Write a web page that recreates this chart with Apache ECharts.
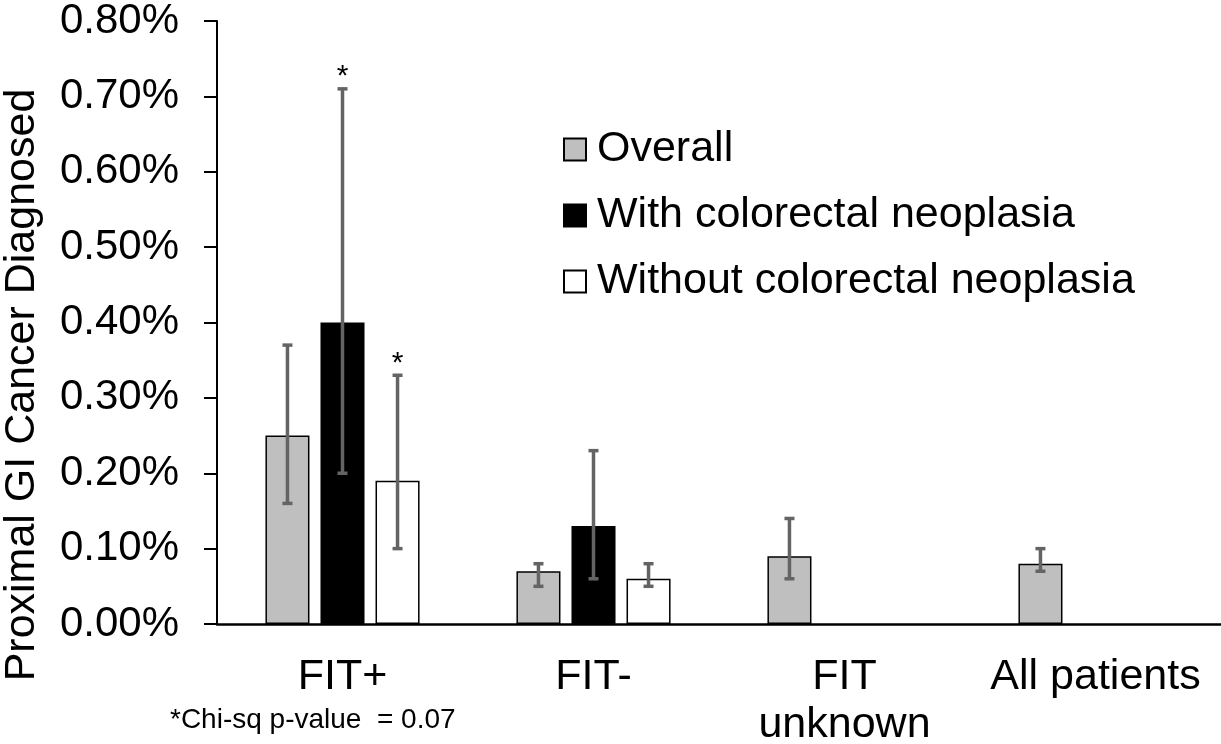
<!DOCTYPE html>
<html>
<head>
<meta charset="utf-8">
<script src="https://cdn.jsdelivr.net/npm/echarts@6/dist/echarts.min.js"></script>
<style>
html,body{margin:0;padding:0;background:#fff;}
#chart{width:1221px;height:744px;}
</style>
</head>
<body>
<div id="chart"></div>
<script>
// ---- data (values in percent) ----
const categories = ['FIT+', 'FIT-', 'FIT\nunknown', 'All patients'];
const seriesNames = ['Overall', 'With colorectal neoplasia', 'Without colorectal neoplasia'];
const overall      = [0.25, 0.07, 0.09, 0.08];
const overallLow   = [0.16, 0.05, 0.06, 0.07];
const overallHigh  = [0.37, 0.08, 0.14, 0.10];
const withNeo      = [0.40, 0.13, null, null];
const withLow      = [0.20, 0.06, null, null];
const withHigh     = [0.71, 0.23, null, null];
const withoutNeo   = [0.19, 0.06, null, null];
const withoutLow   = [0.10, 0.05, null, null];
const withoutHigh  = [0.33, 0.08, null, null];
const withSig      = [true, false, false, false];
const withoutSig   = [true, false, false, false];
const yTicks = [0, 0.1, 0.2, 0.3, 0.4, 0.5, 0.6, 0.7, 0.8];
const footnote = '*Chi-sq p-value  = 0.07';
const yTitle = 'Proximal GI Cancer Diagnosed';

// ---- style ----
const FONT = "'Liberation Sans', Arial, sans-serif";
const CAT_GAP = 0.386, BAR_GAP = 0.25;
const fills = ['#bfbfbf', '#000000', '#ffffff'];

const groups = [
  [overall, overallLow, overallHigh, [false,false,false,false]],
  [withNeo, withLow, withHigh, withSig],
  [withoutNeo, withoutLow, withoutHigh, withoutSig]
];
const errData = [];
groups.forEach((g, s) => {
  g[0].forEach((v, i) => {
    if (v != null && g[1][i] != null) errData.push([i, s, g[1][i], g[2][i], g[3][i] ? 1 : 0]);
  });
});

const chart = echarts.init(document.getElementById('chart'), null, {renderer: 'canvas'});

const barSeries = [overall, withNeo, withoutNeo].map((arr, s) => ({
  name: seriesNames[s],
  type: 'bar',
  data: arr.map(v => v == null ? '-' : v),
  barGap: (BAR_GAP * 100) + '%',
  barCategoryGap: (CAT_GAP * 100) + '%',
  itemStyle: {color: fills[s], borderColor: '#000', borderWidth: 1.5},
  emphasis: {disabled: true},
  z: 2
}));

const errSeries = {
  type: 'custom',
  data: errData,
  z: 5,
  silent: true,
  renderItem: function (params, api) {
    const cat = api.value(0), s = api.value(1);
    const lo = api.coord([cat, api.value(2)]);
    const hi = api.coord([cat, api.value(3)]);
    const band = api.size([1, 0])[0];
    const barW = band * (1 - CAT_GAP) / (3 + 2 * BAR_GAP);
    const off = (s - 1) * barW * (1 + BAR_GAP);
    const x = lo[0] + off;
    const cap = 5;
    const st = {stroke: '#646464', lineWidth: 3.5, lineCap: 'butt'};
    const children = [
      {type: 'line', shape: {x1: x, y1: lo[1], x2: x, y2: hi[1]}, style: st},
      {type: 'line', shape: {x1: x - cap, y1: lo[1], x2: x + cap, y2: lo[1]}, style: st},
      {type: 'line', shape: {x1: x - cap, y1: hi[1], x2: x + cap, y2: hi[1]}, style: st}
    ];
    if (api.value(4) === 1) {
      children.push({type: 'text', x: x, y: hi[1] + 3,
        style: {text: '*', font: '30px ' + FONT, fill: '#000', align: 'center', verticalAlign: 'bottom'}});
    }
    return {type: 'group', children: children};
  }
};

const option = {
  backgroundColor: '#fff',
  animation: false,
  textStyle: {fontFamily: FONT},
  grid: {left: 217, right: 0, top: 21, bottom: 120, containLabel: false, outerBoundsMode: 'none'},
  legend: {
    orient: 'vertical',
    left: 563, top: 128,
    padding: 0,
    itemWidth: 22, itemHeight: 22, itemGap: 23,
    icon: 'rect',
    selectedMode: false,
    data: seriesNames,
    textStyle: {fontSize: 43, color: '#000', fontFamily: FONT, padding: [0, 0, 0, 6]}
  },
  xAxis: {
    type: 'category',
    data: categories,
    axisLine: {lineStyle: {color: '#000', width: 2.5}},
    axisTick: {show: false},
    axisLabel: {fontSize: 43, color: '#000', fontFamily: FONT, margin: 29, lineHeight: 48, interval: 0}
  },
  yAxis: {
    type: 'value',
    min: yTicks[0], max: yTicks[yTicks.length - 1], interval: yTicks[1] - yTicks[0],
    axisLine: {show: true, lineStyle: {color: '#000', width: 2}},
    axisTick: {show: true, inside: false, length: 13, lineStyle: {color: '#000', width: 2}},
    splitLine: {show: false},
    axisLabel: {fontSize: 42, color: '#000', fontFamily: FONT, margin: 38,
      formatter: v => v.toFixed(2) + '%'}
  },
  graphic: [
    {type: 'text', x: 22, y: 385, rotation: Math.PI / 2,
      style: {text: yTitle, font: '43px ' + FONT, fill: '#000', align: 'center', verticalAlign: 'middle'}},
    {type: 'text', x: 170, y: 720,
      style: {text: footnote, font: '28px ' + FONT, fill: '#000', align: 'left', verticalAlign: 'middle'}}
  ],
  series: barSeries.concat([errSeries])
};
chart.setOption(option);
</script>
</body>
</html>
